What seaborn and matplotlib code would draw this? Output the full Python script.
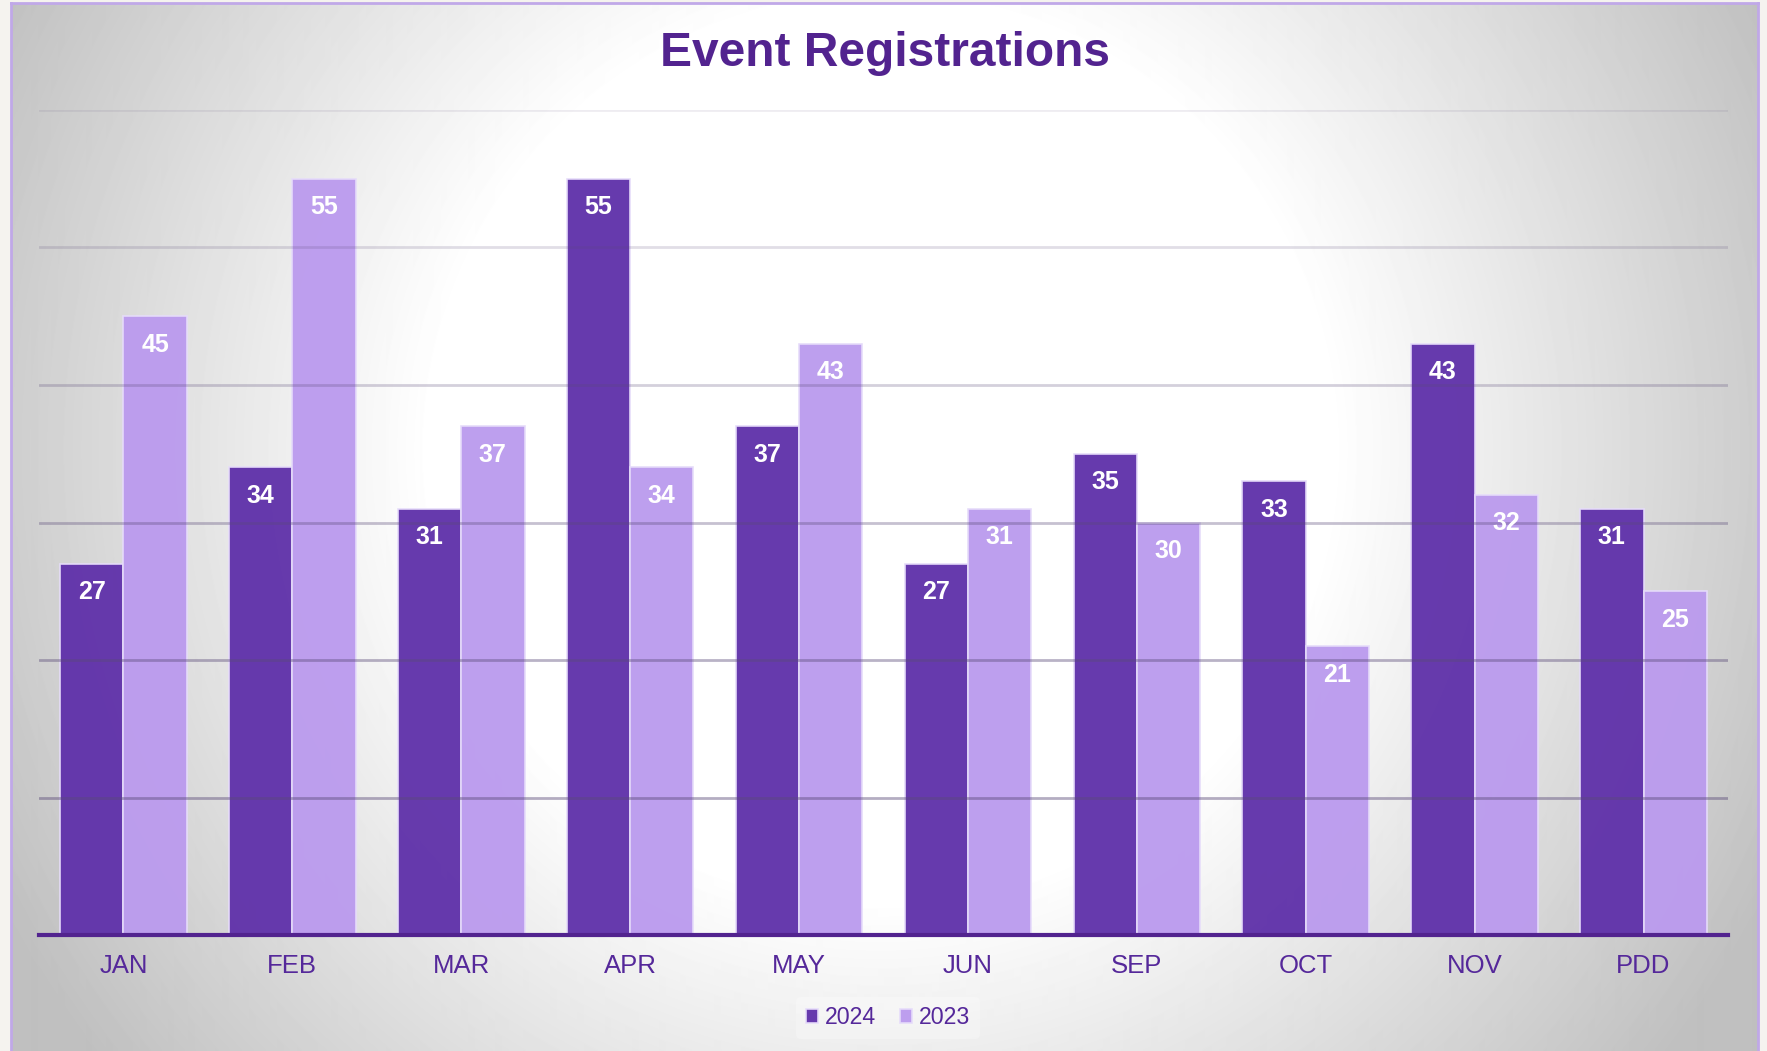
import numpy as np
import pandas as pd
import matplotlib.pyplot as plt
import seaborn as sns

# chart data
months = ["JAN", "FEB", "MAR", "APR", "MAY", "JUN", "SEP", "OCT", "NOV", "PDD"]
reg_2024 = [27, 34, 31, 55, 37, 27, 35, 33, 43, 31]
reg_2023 = [45, 55, 37, 34, 43, 31, 30, 21, 32, 25]
years = ["2024", "2023"]
y_ticks = [0, 10, 20, 30, 40, 50, 60]

title_color = "#52238f"
text_color = "#55289a"
bar_colors = {"2024": "#6032aa", "2023": "#bb9bee"}

df = pd.DataFrame({
    "month": months * 2,
    "year": ["2024"] * len(months) + ["2023"] * len(months),
    "value": reg_2024 + reg_2023,
})

sns.set_theme(style="white")
plt.rcParams["font.family"] = ["Liberation Sans", "DejaVu Sans"]

W, H = 1767, 1051
fig = plt.figure(figsize=(W / 100, H / 100), dpi=100, facecolor="#f5f3ef")

# framed background with a soft radial gradient
bx0, by_top, bx1 = 11, 3, 1758
bg = fig.add_axes([bx0 / W, 0, (bx1 - bx0) / W, (H - by_top) / H], zorder=0)
gx, gy = np.meshgrid(np.arange(bx0, bx1), np.arange(by_top, H))
r = np.sqrt(((gx - 880) / 900.0) ** 2 + ((gy - 450) / 900.0) ** 2)
shade = 255 - 63 * np.clip((r - 0.5) / 0.6, 0, 1)
bg.imshow(shade, cmap="gray", vmin=0, vmax=255, aspect="auto",
          extent=[0, 1, 0, 1], interpolation="bilinear")
bg.set_xticks([])
bg.set_yticks([])
for side, sp in bg.spines.items():
    sp.set_color("#c0a8e8")
    sp.set_linewidth(2)
bg.spines["bottom"].set_visible(False)

ax = fig.add_axes([39 / W, 1 - 935 / H, (1728 - 39) / W, (935 - 110) / H], zorder=1)
ax.patch.set_alpha(0)

sns.barplot(data=df, x="month", y="value", hue="year", hue_order=years,
            palette=bar_colors, width=0.75, gap=0, saturation=1,
            edgecolor="#e6dcfa", linewidth=1.2, ax=ax, legend=True)
for p in ax.patches:
    p.set_alpha(0.96)
    p.set_zorder(2)

ax.set_ylim(0, 60)
ax.set_xlim(-0.5, len(months) - 0.5)
ax.set_yticks(y_ticks)
ax.set_yticklabels([])
ax.tick_params(axis="y", length=0)
for t in y_ticks[1:]:
    a = min(0.1 + 0.08 * (60 - t) / 10, 0.45)
    ax.axhline(t, color="#5a4a78", alpha=a, linewidth=2, zorder=3)

for c in ax.containers:
    ax.bar_label(c, padding=-29, color="white", fontsize=18,
                 fontweight="bold", zorder=5)

for side in ["left", "right", "top"]:
    ax.spines[side].set_visible(False)
ax.spines["bottom"].set_color(title_color)
ax.spines["bottom"].set_linewidth(3)
ax.spines["bottom"].set_zorder(6)
ax.set_xlabel("")
ax.set_ylabel("")
ax.tick_params(axis="x", length=0, pad=14, labelsize=18.5, labelcolor=text_color)

handles, labels = ax.get_legend_handles_labels()
ax.legend(handles, labels, loc="center", bbox_to_anchor=(888 / W, 1 - 1018 / H),
          bbox_transform=fig.transFigure, ncol=2, frameon=True,
          facecolor="white", framealpha=0.25, edgecolor="none",
          handlelength=0.55, handleheight=0.55, handletextpad=0.3,
          columnspacing=1.0, fontsize=16.7, labelcolor=text_color)

fig.text(885 / W, 1 - 54 / H, "Event Registrations", ha="center", va="center",
         fontsize=34.5, fontweight="bold", color=title_color)

fig.savefig("out.png", dpi=100, facecolor=fig.get_facecolor())
